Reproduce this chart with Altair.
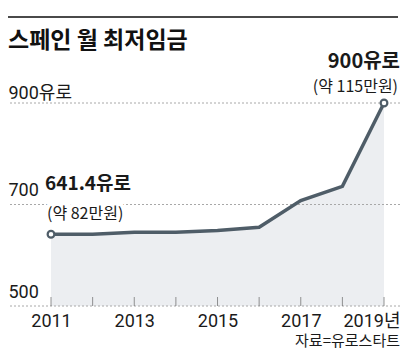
import altair as alt
import pandas as pd

years = [2011, 2012, 2013, 2014, 2015, 2016, 2017, 2018, 2019]
wages = [641.4, 641.4, 645.3, 645.3, 648.6, 655.2, 707.6, 735.9, 900.0]
y_ticks = [500, 700, 900]
x_label_years = [2011, 2013, 2015, 2017, 2019]
ann_years = [2011, 2019]
ann_values = [641.4, 900.0]
ann_main = ["641.4유로", "900유로"]
ann_sub = ["(약 82만원)", "(약 115만원)"]
title_text = ["스페인 월 최저임금"]
source_text = ["자료=유로스타트"]

df = pd.DataFrame({"year": years, "wage": wages})
grid_df = pd.DataFrame({"v": y_ticks})
tick_df = pd.DataFrame({"year": years})
ann_df = pd.DataFrame({"year": ann_years, "wage": ann_values, "main": ann_main, "sub": ann_sub})
title_df = pd.DataFrame({"t": title_text})
source_df = pd.DataFrame({"t": source_text})

W, H = 392, 203
LINE = "#4f5d68"
AREA = "#eceef1"
TXT = "#1a1a1a"
FONT_NUM = "Roboto, Noto Sans CJK KR"
FONT_KR = "Noto Sans CJK KR"

xscale = alt.Scale(domain=[2009.967, 2019.384], nice=False, zero=False)
yscale = alt.Scale(domain=[500, 900], nice=False, zero=False)

x_axis = alt.Axis(
    values=x_label_years, format="d",
    labelExpr=f"datum.value == {x_label_years[-1]} ? datum.label + '년' : datum.label",
    labelAlign={"condition": {"test": f"datum.value == {x_label_years[-1]}", "value": "right"}, "value": "center"},
    labelOffset={"condition": {"test": f"datum.value == {x_label_years[-1]}", "value": 16}, "value": 0},
    labelBaseline="alphabetic", labelPadding=20,
    ticks=False, tickSize=0, domain=False, grid=False,
    labelFont=FONT_NUM, labelFontSize=18, labelColor=TXT, zindex=1, title=None,
)
y_axis = alt.Axis(
    values=y_ticks,
    labelExpr=f"datum.value == {y_ticks[-1]} ? datum.label + '유로' : datum.label",
    labelAlign="left", labelBaseline="alphabetic", labelPadding=0,
    labelOffset={"condition": {"test": f"datum.value == {y_ticks[-1]}", "value": -5}, "value": -9},
    ticks=False, tickSize=0, domain=False, grid=False,
    labelFont=FONT_NUM, labelFontSize=18, labelColor=TXT, zindex=1, title=None,
)

X = alt.X("year:Q", scale=xscale, axis=x_axis)
Y = alt.Y("wage:Q", scale=yscale, axis=y_axis)

topline = alt.Chart(title_df).mark_rule(color="#4a4a4a", strokeWidth=2).encode(
    x=alt.value(0), x2=alt.value(390), y=alt.value(-86)
)
title = alt.Chart(title_df).mark_text(
    align="left", baseline="alphabetic", font=FONT_KR, fontWeight="bold", fontSize=23, color="#111"
).encode(x=alt.value(0), y=alt.value(-55), text="t:N")
source = alt.Chart(source_df).mark_text(
    align="right", baseline="alphabetic", font=FONT_KR, fontSize=15, color=TXT
).encode(x=alt.value(392), y=alt.value(243), text="t:N")

area = alt.Chart(df).mark_area(color=AREA, opacity=1).encode(x=X, y=Y, y2=alt.datum(500))
grid = alt.Chart(grid_df).mark_rule(color="#a8a8a8", strokeWidth=1, strokeDash=[2, 2]).encode(
    y=alt.Y("v:Q", scale=yscale)
)
ticks = alt.Chart(tick_df).mark_tick(orient="vertical", size=9, thickness=1, color="#666", yOffset=-4.5).encode(
    x=alt.X("year:Q", scale=xscale), y=alt.datum(500)
)
line = alt.Chart(df).mark_line(color=LINE, strokeWidth=3.5).encode(x=X, y=Y)
points = alt.Chart(ann_df).mark_point(filled=True, fill="white", stroke=LINE, strokeWidth=2.2, size=45, opacity=1).encode(
    x=alt.X("year:Q", scale=xscale), y=alt.Y("wage:Q", scale=yscale)
)

def ann_text(idx, field, align, dx, dy, bold, size, halo=False):
    props = dict(align=align, baseline="alphabetic", dx=dx, dy=dy, font=FONT_KR,
                 fontWeight="bold" if bold else "normal", fontSize=size, color=TXT)
    if halo:
        props.update(stroke="white", strokeWidth=8, color="white")
    return alt.Chart(ann_df).transform_filter(f"datum.year == {ann_years[idx]}").mark_text(**props).encode(
        x=alt.X("year:Q", scale=xscale), y=alt.Y("wage:Q", scale=yscale), text=f"{field}:N"
    )

halo1 = ann_text(0, "sub", "left", -4, -15, False, 16, halo=True)
halo2 = ann_text(1, "sub", "right", 14, -11, False, 16, halo=True)
t1 = ann_text(0, "main", "left", -6, -44, True, 19)
t2 = ann_text(0, "sub", "left", -4, -15, False, 16)
t3 = ann_text(1, "main", "right", 16, -35, True, 20)
t4 = ann_text(1, "sub", "right", 14, -11, False, 16)

chart = alt.layer(
    area, grid, ticks, halo1, halo2, line, points, t1, t2, t3, t4, title, source, topline
).properties(
    width=W, height=H,
    autosize=alt.AutoSizeParams(type="none"),
    padding={"left": 0, "top": 95, "right": 1, "bottom": 45},
    background="white",
).configure_view(stroke=None)

chart.save("out.html", embed_options={"renderer": "svg", "actions": False})
